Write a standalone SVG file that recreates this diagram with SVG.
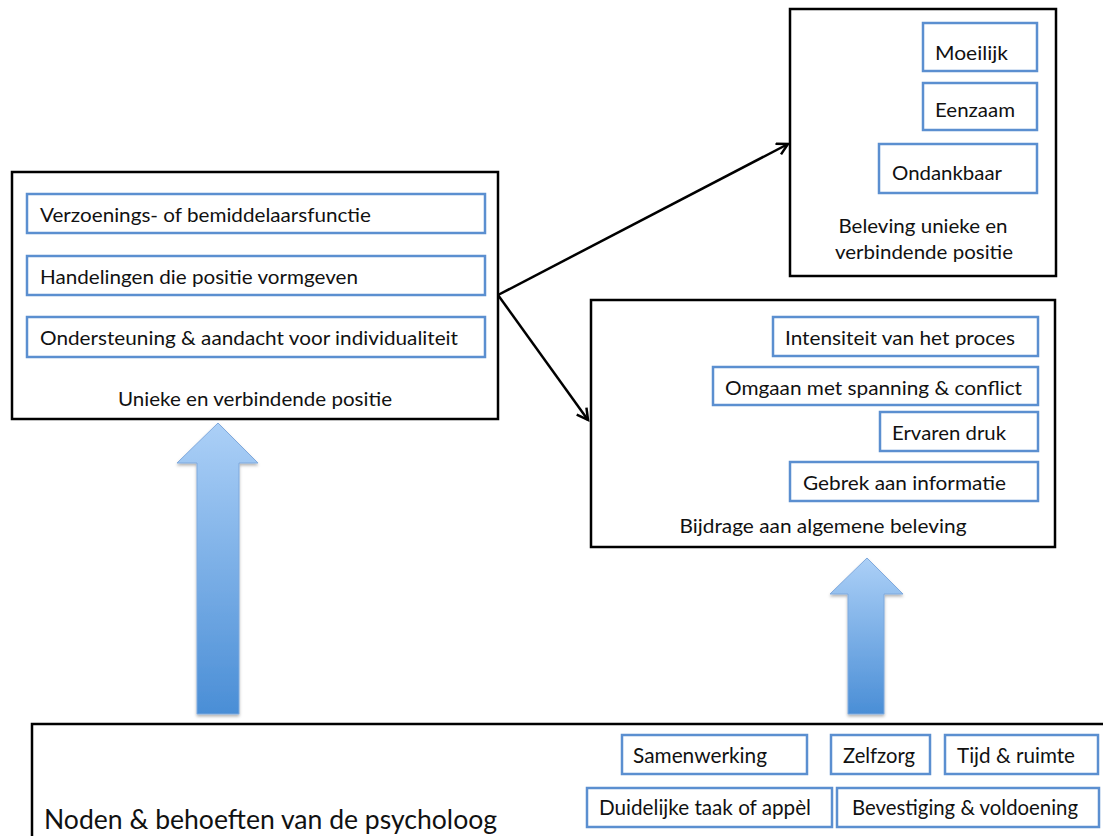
<svg xmlns="http://www.w3.org/2000/svg" width="1103" height="836" viewBox="0 0 1103 836">
<style>
.frame{fill:#fff;stroke:#000;stroke-width:2.5}
.item{fill:#fff;stroke:#5b8fd0;stroke-width:2.5}
.t{font-family:Lato,"Liberation Sans",sans-serif;font-size:19px;fill:#111}
.s{font-size:21px}
.c{text-anchor:middle}
.b{font-size:26px}
.conn{stroke:#000;stroke-width:2.5;fill:none}
.big{fill:url(#g);stroke:#7fa9dd;stroke-width:1;filter:url(#sh)}
</style>
<defs>
<linearGradient id="g" x1="0" y1="0" x2="0" y2="1">
<stop offset="0" stop-color="#acd0f7"/>
<stop offset="1" stop-color="#4a8ed6"/>
</linearGradient>
<filter id="sh" x="-20%" y="-5%" width="140%" height="110%">
<feDropShadow dx="0" dy="2" stdDeviation="1.5" flood-color="#000" flood-opacity="0.3"/>
</filter>
<marker id="ah" markerWidth="16" markerHeight="16" refX="13" refY="7" orient="auto" markerUnits="userSpaceOnUse">
<path d="M2,1 L13,7 L2,13" fill="none" stroke="#000" stroke-width="2.5"/>
</marker>
</defs>

<g id="arrow-left">
<polygon class="big" points="218,423 258,463 239,463 239,714 197,714 197,463 177,463"/>
</g>
<g id="arrow-right">
<polygon class="big" points="867,558 903,594 884,594 884,714 848,714 848,594 830,594"/>
</g>

<g id="connectors">
<line class="conn" x1="498" y1="295" x2="788" y2="144" marker-end="url(#ah)"/>
<line class="conn" x1="498" y1="295" x2="588" y2="420" marker-end="url(#ah)"/>
</g>

<g id="unieke-positie">
<rect class="frame" x="12" y="172" width="486" height="247"/>
<rect class="item" x="27" y="194" width="458" height="39"/>
<text class="t" x="40" y="222" textLength="331" lengthAdjust="spacingAndGlyphs">Verzoenings- of bemiddelaarsfunctie</text>
<rect class="item" x="27" y="256" width="458" height="39"/>
<text class="t" x="40" y="284" textLength="318" lengthAdjust="spacingAndGlyphs">Handelingen die positie vormgeven</text>
<rect class="item" x="27" y="317" width="458" height="40"/>
<text class="t" x="40" y="345" textLength="418" lengthAdjust="spacingAndGlyphs">Ondersteuning &amp; aandacht voor individualiteit</text>
<text class="t c" x="255" y="406" textLength="274" lengthAdjust="spacingAndGlyphs">Unieke en verbindende positie</text>
</g>

<g id="beleving-positie">
<rect class="frame" x="790" y="9" width="266" height="267"/>
<rect class="item" x="923" y="23" width="114" height="48"/>
<text class="t" x="935" y="60" textLength="73" lengthAdjust="spacingAndGlyphs">Moeilijk</text>
<rect class="item" x="923" y="83" width="114" height="47"/>
<text class="t" x="935" y="117" textLength="80" lengthAdjust="spacingAndGlyphs">Eenzaam</text>
<rect class="item" x="879" y="144" width="158" height="49"/>
<text class="t" x="892" y="180" textLength="110" lengthAdjust="spacingAndGlyphs">Ondankbaar</text>
<text class="t c" x="923" y="233" textLength="169" lengthAdjust="spacingAndGlyphs">Beleving unieke en</text>
<text class="t c" x="924" y="259" textLength="178" lengthAdjust="spacingAndGlyphs">verbindende positie</text>
</g>

<g id="algemene-beleving">
<rect class="frame" x="591" y="300" width="464" height="247"/>
<rect class="item" x="773" y="317" width="265" height="39"/>
<text class="t" x="785" y="345" textLength="230" lengthAdjust="spacingAndGlyphs">Intensiteit van het proces</text>
<rect class="item" x="713" y="367" width="325" height="38"/>
<text class="t" x="725" y="395" textLength="297" lengthAdjust="spacingAndGlyphs">Omgaan met spanning &amp; conflict</text>
<rect class="item" x="880" y="412" width="158" height="39"/>
<text class="t" x="892" y="440" textLength="114" lengthAdjust="spacingAndGlyphs">Ervaren druk</text>
<rect class="item" x="790" y="462" width="248" height="39"/>
<text class="t" x="803" y="490" textLength="203" lengthAdjust="spacingAndGlyphs">Gebrek aan informatie</text>
<text class="t c" x="823" y="533" textLength="287" lengthAdjust="spacingAndGlyphs">Bijdrage aan algemene beleving</text>
</g>

<g id="noden-behoeften">
<rect class="frame" x="32" y="724" width="1100" height="130"/>
<text class="t b" x="44" y="829" textLength="453" lengthAdjust="spacingAndGlyphs">Noden &amp; behoeften van de psycholoog</text>
<rect class="item" x="622" y="735" width="185" height="39"/>
<text class="t s" x="633" y="763" textLength="134" lengthAdjust="spacingAndGlyphs">Samenwerking</text>
<rect class="item" x="831" y="735" width="99" height="39"/>
<text class="t s" x="843" y="763" textLength="72" lengthAdjust="spacingAndGlyphs">Zelfzorg</text>
<rect class="item" x="945" y="735" width="153" height="39"/>
<text class="t s" x="957" y="763" textLength="118" lengthAdjust="spacingAndGlyphs">Tijd &amp; ruimte</text>
<rect class="item" x="587" y="788" width="245" height="39"/>
<text class="t s" x="599" y="815" textLength="212" lengthAdjust="spacingAndGlyphs">Duidelijke taak of appèl</text>
<rect class="item" x="837" y="788" width="262" height="39"/>
<text class="t s" x="852" y="815" textLength="226" lengthAdjust="spacingAndGlyphs">Bevestiging &amp; voldoening</text>
</g>
</svg>
